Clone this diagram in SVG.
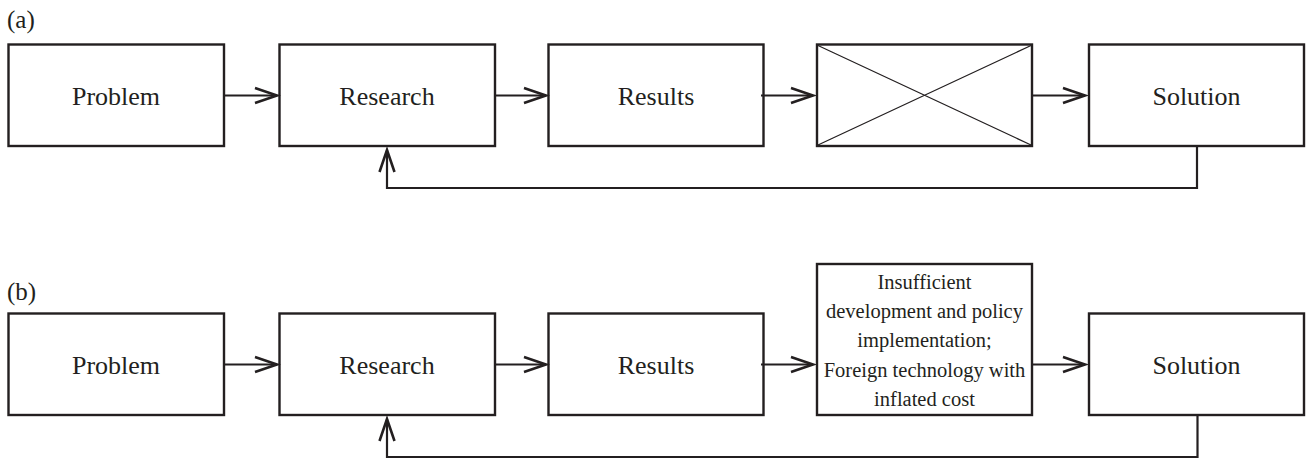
<svg xmlns="http://www.w3.org/2000/svg" width="1307" height="459" viewBox="0 0 1307 459">
  <style>
    .box { fill: #ffffff; stroke: #231f20; stroke-width: 2.4; }
    .cross { stroke: #231f20; stroke-width: 1.2; fill: none; }
    .link { stroke: #231f20; stroke-width: 2.2; fill: none; }
    .lbl { font-family: "Liberation Serif", "Times New Roman", serif; font-size: 26px; fill: #231f20; text-anchor: middle; }
    .small { font-family: "Liberation Serif", "Times New Roman", serif; font-size: 20.5px; fill: #231f20; text-anchor: middle; }
    .tag { font-family: "Liberation Serif", "Times New Roman", serif; font-size: 25px; fill: #231f20; }
  </style>
  <defs>
    <marker id="arrow" markerUnits="userSpaceOnUse" markerWidth="30" markerHeight="24" viewBox="-26 -12 30 24" refX="0" refY="0" orient="auto">
      <path d="M -22 -7.5 L 0 0 L -22 7.5" fill="none" stroke="#231f20" stroke-width="2.6"/>
    </marker>
  </defs>

  <!-- panel labels -->
  <text class="tag" x="7" y="28">(a)</text>
  <text class="tag" x="7" y="300">(b)</text>

  <!-- row (a) -->
  <g id="a-problem">
    <rect class="box" x="8.5" y="44.5" width="215.5" height="101.5"/>
    <text class="lbl" x="116" y="105">Problem</text>
  </g>
  <g id="a-research">
    <rect class="box" x="279.5" y="44.5" width="215.5" height="101.5"/>
    <text class="lbl" x="387" y="105">Research</text>
  </g>
  <g id="a-results">
    <rect class="box" x="548.5" y="44.5" width="215" height="101.5"/>
    <text class="lbl" x="656" y="105">Results</text>
  </g>
  <g id="a-blocked">
    <rect class="box" x="817" y="44.5" width="215" height="101.5"/>
    <path class="cross" d="M 818 45.5 L 1031 145 M 818 145 L 1031 45.5"/>
  </g>
  <g id="a-solution">
    <rect class="box" x="1089" y="44.5" width="215" height="101.5"/>
    <text class="lbl" x="1196.5" y="105">Solution</text>
  </g>

  <!-- row (b) -->
  <g id="b-problem">
    <rect class="box" x="8.5" y="313.5" width="215.5" height="101.5"/>
    <text class="lbl" x="116" y="374">Problem</text>
  </g>
  <g id="b-research">
    <rect class="box" x="279.5" y="313.5" width="215.5" height="101.5"/>
    <text class="lbl" x="387" y="374">Research</text>
  </g>
  <g id="b-results">
    <rect class="box" x="548.5" y="313.5" width="215" height="101.5"/>
    <text class="lbl" x="656" y="374">Results</text>
  </g>
  <g id="b-barriers">
    <rect class="box" x="817" y="264" width="215" height="151"/>
    <text class="small" x="924.5" y="289.3">Insufficient</text>
    <text class="small" x="924.5" y="318.3">development and policy</text>
    <text class="small" x="924.5" y="347.3">implementation;</text>
    <text class="small" x="924.5" y="376.5">Foreign technology with</text>
    <text class="small" x="924.5" y="405.5">inflated cost</text>
  </g>
  <g id="b-solution">
    <rect class="box" x="1089" y="313.5" width="215" height="101.5"/>
    <text class="lbl" x="1196.5" y="374">Solution</text>
  </g>

  <!-- connectors -->
  <g id="connectors">
    <line class="link" x1="225" y1="95.5" x2="277" y2="95.5" marker-end="url(#arrow)"/>
    <line class="link" x1="495" y1="95.5" x2="546" y2="95.5" marker-end="url(#arrow)"/>
    <line class="link" x1="761" y1="95.5" x2="813" y2="95.5" marker-end="url(#arrow)"/>
    <line class="link" x1="1032" y1="95.5" x2="1085" y2="95.5" marker-end="url(#arrow)"/>
    <path class="link" d="M 1197 147 V 188 H 387 V 150" marker-end="url(#arrow)"/>

    <line class="link" x1="225" y1="364.5" x2="277" y2="364.5" marker-end="url(#arrow)"/>
    <line class="link" x1="495" y1="364.5" x2="546" y2="364.5" marker-end="url(#arrow)"/>
    <line class="link" x1="761" y1="364.5" x2="813" y2="364.5" marker-end="url(#arrow)"/>
    <line class="link" x1="1032" y1="364.5" x2="1085" y2="364.5" marker-end="url(#arrow)"/>
    <path class="link" d="M 1197.5 416 V 457 H 387 V 419" marker-end="url(#arrow)"/>
  </g>
</svg>
